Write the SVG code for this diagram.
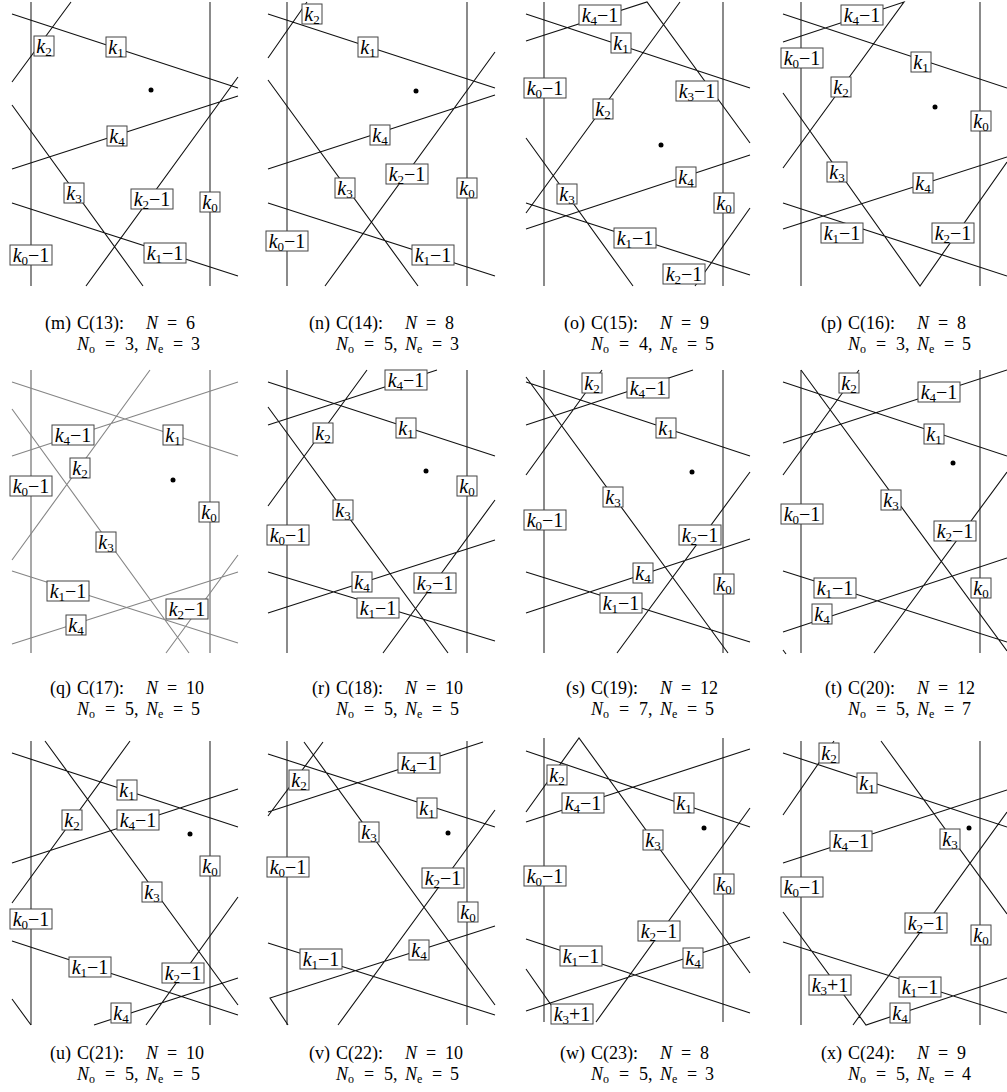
<svg xmlns="http://www.w3.org/2000/svg" width="1007" height="1092" viewBox="0 0 1007 1092" font-family="Liberation Serif, DejaVu Serif, serif">
<style>
text{font-family:"Liberation Serif","DejaVu Serif",serif;fill:#000}
.l{fill:none;stroke:#111;stroke-width:1.1;stroke-linejoin:miter}
.v{fill:none;stroke:#5a5a5a;stroke-width:1.4}
.gq .l,.gq .v{stroke:#858585}
.lb rect{fill:#fff;stroke:#444;stroke-width:1}
.lb text{font-size:20px;text-anchor:middle}
.i{font-style:italic}
.s{font-size:13px}
.cap text{font-size:18px}
.cap .s{font-size:12px}
.dot{fill:#000}
</style>
<rect width="1007" height="1092" fill="#fff"/>

<!-- ===== Panel m ===== -->
<g id="panel-m">
<g id="m-connectors"><path class="v" d="M31 2V286M210 2V286"/><path class="l" d="M12 14L238 88M12 82L71 2M12 169L238 96M12 105L143 286M86 286L238 77M12 203L238 276"/></g>
<circle class="dot" cx="151" cy="90" r="2.5"/>
<g id="m-k2" class="lb"><rect x="34" y="36" width="20" height="20"/><text x="44" y="52.5"><tspan class="i">k</tspan><tspan class="s" dy="3.5">2</tspan></text></g>
<g id="m-k1" class="lb"><rect x="106" y="37" width="20" height="20"/><text x="116" y="53.5"><tspan class="i">k</tspan><tspan class="s" dy="3.5">1</tspan></text></g>
<g id="m-k4" class="lb"><rect x="107" y="126" width="20" height="20"/><text x="117" y="142.5"><tspan class="i">k</tspan><tspan class="s" dy="3.5">4</tspan></text></g>
<g id="m-k3" class="lb"><rect x="64" y="183" width="20" height="20"/><text x="74" y="199.5"><tspan class="i">k</tspan><tspan class="s" dy="3.5">3</tspan></text></g>
<g id="m-k2m1" class="lb"><rect x="131" y="189" width="42" height="20"/><text x="152" y="205.5"><tspan class="i">k</tspan><tspan class="s" dy="3.5">2</tspan><tspan dy="-3.5">−1</tspan></text></g>
<g id="m-k0" class="lb"><rect x="200" y="192" width="20" height="20"/><text x="210" y="208.5"><tspan class="i">k</tspan><tspan class="s" dy="3.5">0</tspan></text></g>
<g id="m-k0m1" class="lb"><rect x="10" y="245" width="42" height="20"/><text x="31" y="261.5"><tspan class="i">k</tspan><tspan class="s" dy="3.5">0</tspan><tspan dy="-3.5">−1</tspan></text></g>
<g id="m-k1m1" class="lb"><rect x="144" y="243" width="42" height="20"/><text x="165" y="259.5"><tspan class="i">k</tspan><tspan class="s" dy="3.5">1</tspan><tspan dy="-3.5">−1</tspan></text></g>
<g id="cap-m" class="cap"><text x="71" y="329" text-anchor="end">(m)</text><text y="329"><tspan x="77">C(13):</tspan><tspan x="146" class="i">N</tspan><tspan x="167">=</tspan><tspan x="186">6</tspan></text><text y="350"><tspan x="77" class="i">N</tspan><tspan class="s" dy="3">o</tspan><tspan x="105" dy="-3">=</tspan><tspan x="125">3,</tspan><tspan x="146" class="i">N</tspan><tspan class="s" dy="3">e</tspan><tspan x="173" dy="-3">=</tspan><tspan x="191">3</tspan></text></g>
</g>

<!-- ===== Panel n ===== -->
<g id="panel-n">
<g id="n-connectors"><path class="v" d="M287 2V286M467 2V286"/><path class="l" d="M268 14L495 88M268 58L307 2M268 80L418 286M268 169L495 95M325 286L495 52M268 203L495 276"/></g>
<circle class="dot" cx="416" cy="91" r="2.5"/>
<g id="n-k1" class="lb"><rect x="358" y="37" width="20" height="20"/><text x="368" y="53.5"><tspan class="i">k</tspan><tspan class="s" dy="3.5">1</tspan></text></g>
<g id="n-k2" class="lb"><rect x="302" y="4" width="20" height="20"/><text x="312" y="20.5"><tspan class="i">k</tspan><tspan class="s" dy="3.5">2</tspan></text></g>
<g id="n-k3" class="lb"><rect x="335" y="178" width="20" height="20"/><text x="345" y="194.5"><tspan class="i">k</tspan><tspan class="s" dy="3.5">3</tspan></text></g>
<g id="n-k4" class="lb"><rect x="370" y="125" width="20" height="20"/><text x="380" y="141.5"><tspan class="i">k</tspan><tspan class="s" dy="3.5">4</tspan></text></g>
<g id="n-k2m1" class="lb"><rect x="386" y="164" width="42" height="20"/><text x="407" y="180.5"><tspan class="i">k</tspan><tspan class="s" dy="3.5">2</tspan><tspan dy="-3.5">−1</tspan></text></g>
<g id="n-k1m1" class="lb"><rect x="412" y="245" width="42" height="20"/><text x="433" y="261.5"><tspan class="i">k</tspan><tspan class="s" dy="3.5">1</tspan><tspan dy="-3.5">−1</tspan></text></g>
<g id="n-k0" class="lb"><rect x="457" y="178" width="20" height="20"/><text x="467" y="194.5"><tspan class="i">k</tspan><tspan class="s" dy="3.5">0</tspan></text></g>
<g id="n-k0m1" class="lb"><rect x="266" y="231" width="42" height="20"/><text x="287" y="247.5"><tspan class="i">k</tspan><tspan class="s" dy="3.5">0</tspan><tspan dy="-3.5">−1</tspan></text></g>
<g id="cap-n" class="cap"><text x="330" y="329" text-anchor="end">(n)</text><text y="329"><tspan x="336">C(14):</tspan><tspan x="405" class="i">N</tspan><tspan x="426">=</tspan><tspan x="445">8</tspan></text><text y="350"><tspan x="336" class="i">N</tspan><tspan class="s" dy="3">o</tspan><tspan x="364" dy="-3">=</tspan><tspan x="384">5,</tspan><tspan x="405" class="i">N</tspan><tspan class="s" dy="3">e</tspan><tspan x="432" dy="-3">=</tspan><tspan x="450">3</tspan></text></g>
</g>

<!-- ===== Panel o ===== -->
<g id="panel-o">
<g id="o-connectors"><path class="v" d="M544 2V286M723 2V286"/><path class="l" d="M526 41L647 2L750 143M526 14L750 88M526 213L680 2M526 138L633 286M526 229L750 155M526 203L750 275M695 286L750 208"/></g>
<circle class="dot" cx="661" cy="145" r="2.5"/>
<g id="o-k4m1" class="lb"><rect x="579" y="5" width="42" height="20"/><text x="600" y="21.5"><tspan class="i">k</tspan><tspan class="s" dy="3.5">4</tspan><tspan dy="-3.5">−1</tspan></text></g>
<g id="o-k3m1" class="lb"><rect x="676" y="81" width="42" height="20"/><text x="697" y="97.5"><tspan class="i">k</tspan><tspan class="s" dy="3.5">3</tspan><tspan dy="-3.5">−1</tspan></text></g>
<g id="o-k1" class="lb"><rect x="611" y="33" width="20" height="20"/><text x="621" y="49.5"><tspan class="i">k</tspan><tspan class="s" dy="3.5">1</tspan></text></g>
<g id="o-k2" class="lb"><rect x="593" y="99" width="20" height="20"/><text x="603" y="115.5"><tspan class="i">k</tspan><tspan class="s" dy="3.5">2</tspan></text></g>
<g id="o-k3" class="lb"><rect x="557" y="184" width="20" height="20"/><text x="567" y="200.5"><tspan class="i">k</tspan><tspan class="s" dy="3.5">3</tspan></text></g>
<g id="o-k4" class="lb"><rect x="676" y="167" width="20" height="20"/><text x="686" y="183.5"><tspan class="i">k</tspan><tspan class="s" dy="3.5">4</tspan></text></g>
<g id="o-k1m1" class="lb"><rect x="614" y="228" width="42" height="20"/><text x="635" y="244.5"><tspan class="i">k</tspan><tspan class="s" dy="3.5">1</tspan><tspan dy="-3.5">−1</tspan></text></g>
<g id="o-k2m1" class="lb"><rect x="663" y="264" width="42" height="20"/><text x="684" y="280.5"><tspan class="i">k</tspan><tspan class="s" dy="3.5">2</tspan><tspan dy="-3.5">−1</tspan></text></g>
<g id="o-k0" class="lb"><rect x="714" y="193" width="20" height="20"/><text x="724" y="209.5"><tspan class="i">k</tspan><tspan class="s" dy="3.5">0</tspan></text></g>
<g id="o-k0m1" class="lb"><rect x="524" y="78" width="42" height="20"/><text x="545" y="94.5"><tspan class="i">k</tspan><tspan class="s" dy="3.5">0</tspan><tspan dy="-3.5">−1</tspan></text></g>
<g id="cap-o" class="cap"><text x="585" y="329" text-anchor="end">(o)</text><text y="329"><tspan x="591">C(15):</tspan><tspan x="660" class="i">N</tspan><tspan x="681">=</tspan><tspan x="700">9</tspan></text><text y="350"><tspan x="591" class="i">N</tspan><tspan class="s" dy="3">o</tspan><tspan x="619" dy="-3">=</tspan><tspan x="639">4,</tspan><tspan x="660" class="i">N</tspan><tspan class="s" dy="3">e</tspan><tspan x="687" dy="-3">=</tspan><tspan x="705">5</tspan></text></g>
</g>

<!-- ===== Panel p ===== -->
<g id="panel-p">
<g id="p-connectors"><path class="v" d="M801 2V286M980 2V286"/><path class="l" d="M783 42L904 2L783 168M783 14L1007 88M783 93L920 286L1007 162M783 229L1007 157M783 203L1007 276"/></g>
<circle class="dot" cx="935" cy="107" r="2.5"/>
<g id="p-k4m1" class="lb"><rect x="841" y="5" width="42" height="20"/><text x="862" y="21.5"><tspan class="i">k</tspan><tspan class="s" dy="3.5">4</tspan><tspan dy="-3.5">−1</tspan></text></g>
<g id="p-k2" class="lb"><rect x="831" y="77" width="20" height="20"/><text x="841" y="93.5"><tspan class="i">k</tspan><tspan class="s" dy="3.5">2</tspan></text></g>
<g id="p-k1" class="lb"><rect x="911" y="52" width="20" height="20"/><text x="921" y="68.5"><tspan class="i">k</tspan><tspan class="s" dy="3.5">1</tspan></text></g>
<g id="p-k3" class="lb"><rect x="827" y="162" width="20" height="20"/><text x="837" y="178.5"><tspan class="i">k</tspan><tspan class="s" dy="3.5">3</tspan></text></g>
<g id="p-k2m1" class="lb"><rect x="932" y="223" width="42" height="20"/><text x="953" y="239.5"><tspan class="i">k</tspan><tspan class="s" dy="3.5">2</tspan><tspan dy="-3.5">−1</tspan></text></g>
<g id="p-k4" class="lb"><rect x="913" y="173" width="20" height="20"/><text x="923" y="189.5"><tspan class="i">k</tspan><tspan class="s" dy="3.5">4</tspan></text></g>
<g id="p-k1m1" class="lb"><rect x="821" y="223" width="42" height="20"/><text x="842" y="239.5"><tspan class="i">k</tspan><tspan class="s" dy="3.5">1</tspan><tspan dy="-3.5">−1</tspan></text></g>
<g id="p-k0" class="lb"><rect x="971" y="111" width="20" height="20"/><text x="981" y="127.5"><tspan class="i">k</tspan><tspan class="s" dy="3.5">0</tspan></text></g>
<g id="p-k0m1" class="lb"><rect x="781" y="48" width="42" height="20"/><text x="802" y="64.5"><tspan class="i">k</tspan><tspan class="s" dy="3.5">0</tspan><tspan dy="-3.5">−1</tspan></text></g>
<g id="cap-p" class="cap"><text x="842" y="329" text-anchor="end">(p)</text><text y="329"><tspan x="848">C(16):</tspan><tspan x="917" class="i">N</tspan><tspan x="938">=</tspan><tspan x="957">8</tspan></text><text y="350"><tspan x="848" class="i">N</tspan><tspan class="s" dy="3">o</tspan><tspan x="876" dy="-3">=</tspan><tspan x="896">3,</tspan><tspan x="917" class="i">N</tspan><tspan class="s" dy="3">e</tspan><tspan x="944" dy="-3">=</tspan><tspan x="962">5</tspan></text></g>
</g>

<!-- ===== Panel q ===== -->
<g id="panel-q" class="gq">
<g id="q-connectors"><path class="v" d="M31 370V653M210 370V653"/><path class="l" d="M12 382L238 456M12 456L238 382M12 560L150 370M12 409L189 653M12 571L238 643M12 644L238 572M166 653L238 555"/></g>
<circle class="dot" cx="173" cy="480" r="2.5"/>
<g id="q-k1" class="lb"><rect x="163" y="425" width="20" height="20"/><text x="173" y="441.5"><tspan class="i">k</tspan><tspan class="s" dy="3.5">1</tspan></text></g>
<g id="q-k4m1" class="lb"><rect x="52" y="425" width="42" height="20"/><text x="73" y="441.5"><tspan class="i">k</tspan><tspan class="s" dy="3.5">4</tspan><tspan dy="-3.5">−1</tspan></text></g>
<g id="q-k2" class="lb"><rect x="70" y="458" width="20" height="20"/><text x="80" y="474.5"><tspan class="i">k</tspan><tspan class="s" dy="3.5">2</tspan></text></g>
<g id="q-k3" class="lb"><rect x="96" y="532" width="20" height="20"/><text x="106" y="548.5"><tspan class="i">k</tspan><tspan class="s" dy="3.5">3</tspan></text></g>
<g id="q-k1m1" class="lb"><rect x="47" y="581" width="42" height="20"/><text x="68" y="597.5"><tspan class="i">k</tspan><tspan class="s" dy="3.5">1</tspan><tspan dy="-3.5">−1</tspan></text></g>
<g id="q-k4" class="lb"><rect x="66" y="615" width="20" height="20"/><text x="76" y="631.5"><tspan class="i">k</tspan><tspan class="s" dy="3.5">4</tspan></text></g>
<g id="q-k2m1" class="lb"><rect x="166" y="599" width="42" height="20"/><text x="187" y="615.5"><tspan class="i">k</tspan><tspan class="s" dy="3.5">2</tspan><tspan dy="-3.5">−1</tspan></text></g>
<g id="q-k0" class="lb"><rect x="199" y="502" width="20" height="20"/><text x="209" y="518.5"><tspan class="i">k</tspan><tspan class="s" dy="3.5">0</tspan></text></g>
<g id="q-k0m1" class="lb"><rect x="10" y="476" width="42" height="20"/><text x="31" y="492.5"><tspan class="i">k</tspan><tspan class="s" dy="3.5">0</tspan><tspan dy="-3.5">−1</tspan></text></g>
<g id="cap-q" class="cap"><text x="71" y="694" text-anchor="end">(q)</text><text y="694"><tspan x="77">C(17):</tspan><tspan x="146" class="i">N</tspan><tspan x="167">=</tspan><tspan x="186">10</tspan></text><text y="715"><tspan x="77" class="i">N</tspan><tspan class="s" dy="3">o</tspan><tspan x="105" dy="-3">=</tspan><tspan x="125">5,</tspan><tspan x="146" class="i">N</tspan><tspan class="s" dy="3">e</tspan><tspan x="173" dy="-3">=</tspan><tspan x="191">5</tspan></text></g>
</g>

<!-- ===== Panel r ===== -->
<g id="panel-r">
<g id="r-connectors"><path class="v" d="M287 370V653M467 370V653"/><path class="l" d="M268 425L437 370M268 506L367 370M268 382L495 456M268 407L448 653M383 653L495 500M268 613L495 540M268 572L495 641"/></g>
<circle class="dot" cx="426" cy="471" r="2.5"/>
<g id="r-k4m1" class="lb"><rect x="385" y="370" width="42" height="20"/><text x="406" y="386.5"><tspan class="i">k</tspan><tspan class="s" dy="3.5">4</tspan><tspan dy="-3.5">−1</tspan></text></g>
<g id="r-k2" class="lb"><rect x="313" y="423" width="20" height="20"/><text x="323" y="439.5"><tspan class="i">k</tspan><tspan class="s" dy="3.5">2</tspan></text></g>
<g id="r-k1" class="lb"><rect x="396" y="418" width="20" height="20"/><text x="406" y="434.5"><tspan class="i">k</tspan><tspan class="s" dy="3.5">1</tspan></text></g>
<g id="r-k3" class="lb"><rect x="333" y="500" width="20" height="20"/><text x="343" y="516.5"><tspan class="i">k</tspan><tspan class="s" dy="3.5">3</tspan></text></g>
<g id="r-k2m1" class="lb"><rect x="414" y="573" width="42" height="20"/><text x="435" y="589.5"><tspan class="i">k</tspan><tspan class="s" dy="3.5">2</tspan><tspan dy="-3.5">−1</tspan></text></g>
<g id="r-k4" class="lb"><rect x="352" y="572" width="20" height="20"/><text x="362" y="588.5"><tspan class="i">k</tspan><tspan class="s" dy="3.5">4</tspan></text></g>
<g id="r-k1m1" class="lb"><rect x="357" y="598" width="42" height="20"/><text x="378" y="614.5"><tspan class="i">k</tspan><tspan class="s" dy="3.5">1</tspan><tspan dy="-3.5">−1</tspan></text></g>
<g id="r-k0" class="lb"><rect x="457" y="476" width="20" height="20"/><text x="467" y="492.5"><tspan class="i">k</tspan><tspan class="s" dy="3.5">0</tspan></text></g>
<g id="r-k0m1" class="lb"><rect x="267" y="525" width="42" height="20"/><text x="288" y="541.5"><tspan class="i">k</tspan><tspan class="s" dy="3.5">0</tspan><tspan dy="-3.5">−1</tspan></text></g>
<g id="cap-r" class="cap"><text x="330" y="694" text-anchor="end">(r)</text><text y="694"><tspan x="336">C(18):</tspan><tspan x="405" class="i">N</tspan><tspan x="426">=</tspan><tspan x="445">10</tspan></text><text y="715"><tspan x="336" class="i">N</tspan><tspan class="s" dy="3">o</tspan><tspan x="364" dy="-3">=</tspan><tspan x="384">5,</tspan><tspan x="405" class="i">N</tspan><tspan class="s" dy="3">e</tspan><tspan x="432" dy="-3">=</tspan><tspan x="450">5</tspan></text></g>
</g>

<!-- ===== Panel s ===== -->
<g id="panel-s">
<g id="s-connectors"><path class="v" d="M544 370V653M723 370V653"/><path class="l" d="M526 475L602 370M526 425L693 370M526 382L750 456M526 377L728 653M617 653L750 472M526 613L750 539M526 572L750 642"/></g>
<circle class="dot" cx="692" cy="472" r="2.5"/>
<g id="s-k2" class="lb"><rect x="582" y="373" width="20" height="20"/><text x="592" y="389.5"><tspan class="i">k</tspan><tspan class="s" dy="3.5">2</tspan></text></g>
<g id="s-k4m1" class="lb"><rect x="627" y="378" width="42" height="20"/><text x="648" y="394.5"><tspan class="i">k</tspan><tspan class="s" dy="3.5">4</tspan><tspan dy="-3.5">−1</tspan></text></g>
<g id="s-k1" class="lb"><rect x="656" y="418" width="20" height="20"/><text x="666" y="434.5"><tspan class="i">k</tspan><tspan class="s" dy="3.5">1</tspan></text></g>
<g id="s-k3" class="lb"><rect x="603" y="487" width="20" height="20"/><text x="613" y="503.5"><tspan class="i">k</tspan><tspan class="s" dy="3.5">3</tspan></text></g>
<g id="s-k2m1" class="lb"><rect x="679" y="525" width="42" height="20"/><text x="700" y="541.5"><tspan class="i">k</tspan><tspan class="s" dy="3.5">2</tspan><tspan dy="-3.5">−1</tspan></text></g>
<g id="s-k4" class="lb"><rect x="633" y="563" width="20" height="20"/><text x="643" y="579.5"><tspan class="i">k</tspan><tspan class="s" dy="3.5">4</tspan></text></g>
<g id="s-k1m1" class="lb"><rect x="600" y="593" width="42" height="20"/><text x="621" y="609.5"><tspan class="i">k</tspan><tspan class="s" dy="3.5">1</tspan><tspan dy="-3.5">−1</tspan></text></g>
<g id="s-k0" class="lb"><rect x="714" y="574" width="20" height="20"/><text x="724" y="590.5"><tspan class="i">k</tspan><tspan class="s" dy="3.5">0</tspan></text></g>
<g id="s-k0m1" class="lb"><rect x="524" y="510" width="42" height="20"/><text x="545" y="526.5"><tspan class="i">k</tspan><tspan class="s" dy="3.5">0</tspan><tspan dy="-3.5">−1</tspan></text></g>
<g id="cap-s" class="cap"><text x="585" y="694" text-anchor="end">(s)</text><text y="694"><tspan x="591">C(19):</tspan><tspan x="660" class="i">N</tspan><tspan x="681">=</tspan><tspan x="700">12</tspan></text><text y="715"><tspan x="591" class="i">N</tspan><tspan class="s" dy="3">o</tspan><tspan x="619" dy="-3">=</tspan><tspan x="639">7,</tspan><tspan x="660" class="i">N</tspan><tspan class="s" dy="3">e</tspan><tspan x="687" dy="-3">=</tspan><tspan x="705">5</tspan></text></g>
</g>

<!-- ===== Panel t ===== -->
<g id="panel-t">
<g id="t-connectors"><path class="v" d="M801 370V653M980 370V653"/><path class="l" d="M801 370L1007 651M783 475L859 370M783 382L1007 456M783 443L1007 370M874 653L1007 472M783 571L1007 642M783 632L1007 558M783 650L786 654"/></g>
<circle class="dot" cx="953" cy="463" r="2.5"/>
<g id="t-k3" class="lb"><rect x="881" y="490" width="20" height="20"/><text x="891" y="506.5"><tspan class="i">k</tspan><tspan class="s" dy="3.5">3</tspan></text></g>
<g id="t-k2" class="lb"><rect x="839" y="373" width="20" height="20"/><text x="849" y="389.5"><tspan class="i">k</tspan><tspan class="s" dy="3.5">2</tspan></text></g>
<g id="t-k1" class="lb"><rect x="924" y="424" width="20" height="20"/><text x="934" y="440.5"><tspan class="i">k</tspan><tspan class="s" dy="3.5">1</tspan></text></g>
<g id="t-k4m1" class="lb"><rect x="918" y="382" width="42" height="20"/><text x="939" y="398.5"><tspan class="i">k</tspan><tspan class="s" dy="3.5">4</tspan><tspan dy="-3.5">−1</tspan></text></g>
<g id="t-k2m1" class="lb"><rect x="934" y="521" width="42" height="20"/><text x="955" y="537.5"><tspan class="i">k</tspan><tspan class="s" dy="3.5">2</tspan><tspan dy="-3.5">−1</tspan></text></g>
<g id="t-k1m1" class="lb"><rect x="814" y="578" width="42" height="20"/><text x="835" y="594.5"><tspan class="i">k</tspan><tspan class="s" dy="3.5">1</tspan><tspan dy="-3.5">−1</tspan></text></g>
<g id="t-k4" class="lb"><rect x="812" y="604" width="20" height="20"/><text x="822" y="620.5"><tspan class="i">k</tspan><tspan class="s" dy="3.5">4</tspan></text></g>
<g id="t-k0" class="lb"><rect x="971" y="578" width="20" height="20"/><text x="981" y="594.5"><tspan class="i">k</tspan><tspan class="s" dy="3.5">0</tspan></text></g>
<g id="t-k0m1" class="lb"><rect x="781" y="504" width="42" height="20"/><text x="802" y="520.5"><tspan class="i">k</tspan><tspan class="s" dy="3.5">0</tspan><tspan dy="-3.5">−1</tspan></text></g>
<g id="cap-t" class="cap"><text x="842" y="694" text-anchor="end">(t)</text><text y="694"><tspan x="848">C(20):</tspan><tspan x="917" class="i">N</tspan><tspan x="938">=</tspan><tspan x="957">12</tspan></text><text y="715"><tspan x="848" class="i">N</tspan><tspan class="s" dy="3">o</tspan><tspan x="876" dy="-3">=</tspan><tspan x="896">5,</tspan><tspan x="917" class="i">N</tspan><tspan class="s" dy="3">e</tspan><tspan x="944" dy="-3">=</tspan><tspan x="962">7</tspan></text></g>
</g>

<!-- ===== Panel u ===== -->
<g id="panel-u">
<g id="u-connectors"><path class="v" d="M31 741V1025M210 741V1025"/><path class="l" d="M12 753L238 827M45 741L238 1005M12 903L130 741M12 863L238 789M12 941L238 1015M146 1025L238 897M94 1025L238 978M12 999L31 1025"/></g>
<circle class="dot" cx="190" cy="834" r="2.5"/>
<g id="u-k1" class="lb"><rect x="117" y="780" width="20" height="20"/><text x="127" y="796.5"><tspan class="i">k</tspan><tspan class="s" dy="3.5">1</tspan></text></g>
<g id="u-k3" class="lb"><rect x="142" y="882" width="20" height="20"/><text x="152" y="898.5"><tspan class="i">k</tspan><tspan class="s" dy="3.5">3</tspan></text></g>
<g id="u-k2" class="lb"><rect x="62" y="810" width="20" height="20"/><text x="72" y="826.5"><tspan class="i">k</tspan><tspan class="s" dy="3.5">2</tspan></text></g>
<g id="u-k4m1" class="lb"><rect x="117" y="810" width="42" height="20"/><text x="138" y="826.5"><tspan class="i">k</tspan><tspan class="s" dy="3.5">4</tspan><tspan dy="-3.5">−1</tspan></text></g>
<g id="u-k1m1" class="lb"><rect x="69" y="957" width="42" height="20"/><text x="90" y="973.5"><tspan class="i">k</tspan><tspan class="s" dy="3.5">1</tspan><tspan dy="-3.5">−1</tspan></text></g>
<g id="u-k2m1" class="lb"><rect x="162" y="963" width="42" height="20"/><text x="183" y="979.5"><tspan class="i">k</tspan><tspan class="s" dy="3.5">2</tspan><tspan dy="-3.5">−1</tspan></text></g>
<g id="u-k4" class="lb"><rect x="111" y="1003" width="20" height="20"/><text x="121" y="1019.5"><tspan class="i">k</tspan><tspan class="s" dy="3.5">4</tspan></text></g>
<g id="u-k0" class="lb"><rect x="200" y="856" width="20" height="20"/><text x="210" y="872.5"><tspan class="i">k</tspan><tspan class="s" dy="3.5">0</tspan></text></g>
<g id="u-k0m1" class="lb"><rect x="10" y="909" width="42" height="20"/><text x="31" y="925.5"><tspan class="i">k</tspan><tspan class="s" dy="3.5">0</tspan><tspan dy="-3.5">−1</tspan></text></g>
<g id="cap-u" class="cap"><text x="71" y="1059" text-anchor="end">(u)</text><text y="1059"><tspan x="77">C(21):</tspan><tspan x="146" class="i">N</tspan><tspan x="167">=</tspan><tspan x="186">10</tspan></text><text y="1080"><tspan x="77" class="i">N</tspan><tspan class="s" dy="3">o</tspan><tspan x="105" dy="-3">=</tspan><tspan x="125">5,</tspan><tspan x="146" class="i">N</tspan><tspan class="s" dy="3">e</tspan><tspan x="173" dy="-3">=</tspan><tspan x="191">5</tspan></text></g>
</g>

<!-- ===== Panel v ===== -->
<g id="panel-v">
<g id="v-connectors"><path class="v" d="M287 741V1025M467 741V1025"/><path class="l" d="M268 816L323 742M304 742L495 1005M268 754L495 827M268 812L483 742M338 1025L495 810M288 1025L270 998L495 926M268 943L495 1015"/></g>
<circle class="dot" cx="448" cy="833" r="2.5"/>
<g id="v-k2" class="lb"><rect x="289" y="770" width="20" height="20"/><text x="299" y="786.5"><tspan class="i">k</tspan><tspan class="s" dy="3.5">2</tspan></text></g>
<g id="v-k3" class="lb"><rect x="359" y="822" width="20" height="20"/><text x="369" y="838.5"><tspan class="i">k</tspan><tspan class="s" dy="3.5">3</tspan></text></g>
<g id="v-k1" class="lb"><rect x="417" y="798" width="20" height="20"/><text x="427" y="814.5"><tspan class="i">k</tspan><tspan class="s" dy="3.5">1</tspan></text></g>
<g id="v-k4m1" class="lb"><rect x="398" y="753" width="42" height="20"/><text x="419" y="769.5"><tspan class="i">k</tspan><tspan class="s" dy="3.5">4</tspan><tspan dy="-3.5">−1</tspan></text></g>
<g id="v-k2m1" class="lb"><rect x="422" y="868" width="42" height="20"/><text x="443" y="884.5"><tspan class="i">k</tspan><tspan class="s" dy="3.5">2</tspan><tspan dy="-3.5">−1</tspan></text></g>
<g id="v-k4" class="lb"><rect x="409" y="940" width="20" height="20"/><text x="419" y="956.5"><tspan class="i">k</tspan><tspan class="s" dy="3.5">4</tspan></text></g>
<g id="v-k1m1" class="lb"><rect x="300" y="949" width="42" height="20"/><text x="321" y="965.5"><tspan class="i">k</tspan><tspan class="s" dy="3.5">1</tspan><tspan dy="-3.5">−1</tspan></text></g>
<g id="v-k0" class="lb"><rect x="458" y="902" width="20" height="20"/><text x="468" y="918.5"><tspan class="i">k</tspan><tspan class="s" dy="3.5">0</tspan></text></g>
<g id="v-k0m1" class="lb"><rect x="267" y="857" width="42" height="20"/><text x="288" y="873.5"><tspan class="i">k</tspan><tspan class="s" dy="3.5">0</tspan><tspan dy="-3.5">−1</tspan></text></g>
<g id="cap-v" class="cap"><text x="330" y="1059" text-anchor="end">(v)</text><text y="1059"><tspan x="336">C(22):</tspan><tspan x="405" class="i">N</tspan><tspan x="426">=</tspan><tspan x="445">10</tspan></text><text y="1080"><tspan x="336" class="i">N</tspan><tspan class="s" dy="3">o</tspan><tspan x="364" dy="-3">=</tspan><tspan x="384">5,</tspan><tspan x="405" class="i">N</tspan><tspan class="s" dy="3">e</tspan><tspan x="432" dy="-3">=</tspan><tspan x="450">5</tspan></text></g>
</g>

<!-- ===== Panel w ===== -->
<g id="panel-w">
<g id="w-connectors"><path class="v" d="M544 738V1022M723 738V1022"/><path class="l" d="M526 812L579 738L750 973M526 751L750 827M526 822L750 749M596 1022L750 808M526 939L750 1013M526 1011L750 937M526 969L563 1022"/></g>
<circle class="dot" cx="704" cy="828" r="2.5"/>
<g id="w-k2" class="lb"><rect x="547" y="765" width="20" height="20"/><text x="557" y="781.5"><tspan class="i">k</tspan><tspan class="s" dy="3.5">2</tspan></text></g>
<g id="w-k3" class="lb"><rect x="643" y="830" width="20" height="20"/><text x="653" y="846.5"><tspan class="i">k</tspan><tspan class="s" dy="3.5">3</tspan></text></g>
<g id="w-k1" class="lb"><rect x="674" y="793" width="20" height="20"/><text x="684" y="809.5"><tspan class="i">k</tspan><tspan class="s" dy="3.5">1</tspan></text></g>
<g id="w-k4m1" class="lb"><rect x="562" y="793" width="42" height="20"/><text x="583" y="809.5"><tspan class="i">k</tspan><tspan class="s" dy="3.5">4</tspan><tspan dy="-3.5">−1</tspan></text></g>
<g id="w-k2m1" class="lb"><rect x="638" y="921" width="42" height="20"/><text x="659" y="937.5"><tspan class="i">k</tspan><tspan class="s" dy="3.5">2</tspan><tspan dy="-3.5">−1</tspan></text></g>
<g id="w-k1m1" class="lb"><rect x="560" y="946" width="42" height="20"/><text x="581" y="962.5"><tspan class="i">k</tspan><tspan class="s" dy="3.5">1</tspan><tspan dy="-3.5">−1</tspan></text></g>
<g id="w-k4" class="lb"><rect x="683" y="948" width="20" height="20"/><text x="693" y="964.5"><tspan class="i">k</tspan><tspan class="s" dy="3.5">4</tspan></text></g>
<g id="w-k3p1" class="lb"><rect x="551" y="1004" width="42" height="20"/><text x="572" y="1020.5"><tspan class="i">k</tspan><tspan class="s" dy="3.5">3</tspan><tspan dy="-3.5">+1</tspan></text></g>
<g id="w-k0" class="lb"><rect x="714" y="874" width="20" height="20"/><text x="724" y="890.5"><tspan class="i">k</tspan><tspan class="s" dy="3.5">0</tspan></text></g>
<g id="w-k0m1" class="lb"><rect x="524" y="866" width="42" height="20"/><text x="545" y="882.5"><tspan class="i">k</tspan><tspan class="s" dy="3.5">0</tspan><tspan dy="-3.5">−1</tspan></text></g>
<g id="cap-w" class="cap"><text x="585" y="1059" text-anchor="end">(w)</text><text y="1059"><tspan x="591">C(23):</tspan><tspan x="660" class="i">N</tspan><tspan x="681">=</tspan><tspan x="700">8</tspan></text><text y="1080"><tspan x="591" class="i">N</tspan><tspan class="s" dy="3">o</tspan><tspan x="619" dy="-3">=</tspan><tspan x="639">5,</tspan><tspan x="660" class="i">N</tspan><tspan class="s" dy="3">e</tspan><tspan x="687" dy="-3">=</tspan><tspan x="705">3</tspan></text></g>
</g>

<!-- ===== Panel x ===== -->
<g id="panel-x">
<g id="x-connectors"><path class="v" d="M801 741V1025M980 741V1025"/><path class="l" d="M783 815L834 741M783 753L1007 827M881 741L1007 914M783 863L1007 790M853 1025L1007 812M783 942L1007 1013M783 912L866 1025L1007 978"/></g>
<circle class="dot" cx="969" cy="828" r="2.5"/>
<g id="x-k2" class="lb"><rect x="819" y="743" width="20" height="20"/><text x="829" y="759.5"><tspan class="i">k</tspan><tspan class="s" dy="3.5">2</tspan></text></g>
<g id="x-k1" class="lb"><rect x="857" y="773" width="20" height="20"/><text x="867" y="789.5"><tspan class="i">k</tspan><tspan class="s" dy="3.5">1</tspan></text></g>
<g id="x-k3" class="lb"><rect x="940" y="829" width="20" height="20"/><text x="950" y="845.5"><tspan class="i">k</tspan><tspan class="s" dy="3.5">3</tspan></text></g>
<g id="x-k4m1" class="lb"><rect x="830" y="831" width="42" height="20"/><text x="851" y="847.5"><tspan class="i">k</tspan><tspan class="s" dy="3.5">4</tspan><tspan dy="-3.5">−1</tspan></text></g>
<g id="x-k2m1" class="lb"><rect x="905" y="913" width="42" height="20"/><text x="926" y="929.5"><tspan class="i">k</tspan><tspan class="s" dy="3.5">2</tspan><tspan dy="-3.5">−1</tspan></text></g>
<g id="x-k1m1" class="lb"><rect x="899" y="977" width="42" height="20"/><text x="920" y="993.5"><tspan class="i">k</tspan><tspan class="s" dy="3.5">1</tspan><tspan dy="-3.5">−1</tspan></text></g>
<g id="x-k3p1" class="lb"><rect x="809" y="975" width="42" height="20"/><text x="830" y="991.5"><tspan class="i">k</tspan><tspan class="s" dy="3.5">3</tspan><tspan dy="-3.5">+1</tspan></text></g>
<g id="x-k4" class="lb"><rect x="890" y="1003" width="20" height="20"/><text x="900" y="1019.5"><tspan class="i">k</tspan><tspan class="s" dy="3.5">4</tspan></text></g>
<g id="x-k0" class="lb"><rect x="971" y="925" width="20" height="20"/><text x="981" y="941.5"><tspan class="i">k</tspan><tspan class="s" dy="3.5">0</tspan></text></g>
<g id="x-k0m1" class="lb"><rect x="781" y="877" width="42" height="20"/><text x="802" y="893.5"><tspan class="i">k</tspan><tspan class="s" dy="3.5">0</tspan><tspan dy="-3.5">−1</tspan></text></g>
<g id="cap-x" class="cap"><text x="842" y="1059" text-anchor="end">(x)</text><text y="1059"><tspan x="848">C(24):</tspan><tspan x="917" class="i">N</tspan><tspan x="938">=</tspan><tspan x="957">9</tspan></text><text y="1080"><tspan x="848" class="i">N</tspan><tspan class="s" dy="3">o</tspan><tspan x="876" dy="-3">=</tspan><tspan x="896">5,</tspan><tspan x="917" class="i">N</tspan><tspan class="s" dy="3">e</tspan><tspan x="944" dy="-3">=</tspan><tspan x="962">4</tspan></text></g>
</g>
</svg>
